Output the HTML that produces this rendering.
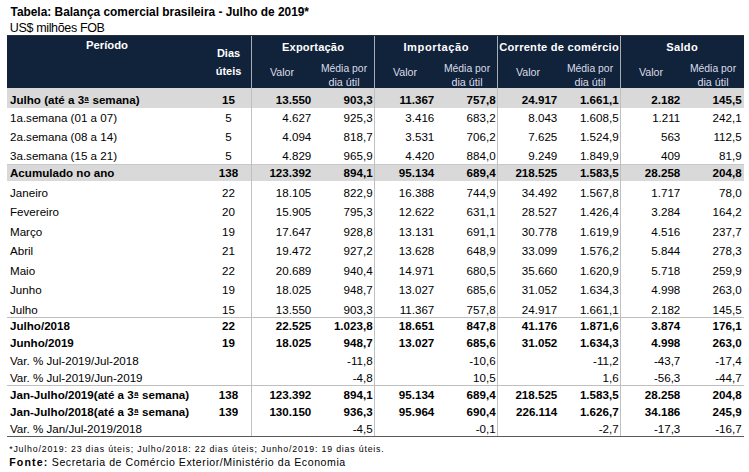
<!DOCTYPE html>
<html><head><meta charset="utf-8"><style>
html,body{margin:0;padding:0;}
body{width:749px;height:472px;position:relative;overflow:hidden;background:#fff;font-family:"Liberation Sans",sans-serif;}
.t{position:absolute;line-height:0;white-space:nowrap;}
.ord{position:relative;top:-3px;font-size:7.5px;text-decoration:underline;text-decoration-thickness:1px;text-underline-offset:1px;margin:0 0.6px 0 0.4px;}
</style></head><body>
<div style="position:absolute;left:7px;top:35px;width:737px;height:53px;background:#11223b;"></div><div style="position:absolute;left:7px;top:35px;width:737px;height:1px;background:#2b2f3a;"></div><div style="position:absolute;left:7px;top:88px;width:737px;height:20px;background:#d9d9d9;"></div><div style="position:absolute;left:7px;top:164px;width:737px;height:17px;background:#d9d9d9;"></div><div style="position:absolute;left:7px;top:164px;width:737px;height:1px;background:#c8c8c8;"></div><div style="position:absolute;left:7px;top:317px;width:737px;height:1px;background:#bfbfbf;"></div><div style="position:absolute;left:7px;top:385px;width:737px;height:1px;background:#bfbfbf;"></div><div style="position:absolute;left:7px;top:436px;width:737px;height:1px;background:#595959;"></div><div style="position:absolute;left:251px;top:36px;width:1px;height:52px;background:#a9acb2;"></div><div style="position:absolute;left:251px;top:88px;width:1px;height:348px;background:#c0c0c0;"></div><div style="position:absolute;left:374px;top:36px;width:1px;height:52px;background:#a9acb2;"></div><div style="position:absolute;left:374px;top:88px;width:1px;height:348px;background:#c0c0c0;"></div><div style="position:absolute;left:497px;top:36px;width:1px;height:52px;background:#a9acb2;"></div><div style="position:absolute;left:497px;top:88px;width:1px;height:348px;background:#c0c0c0;"></div><div style="position:absolute;left:620px;top:36px;width:1px;height:52px;background:#a9acb2;"></div><div style="position:absolute;left:620px;top:88px;width:1px;height:348px;background:#c0c0c0;"></div><div class="t" style="left:10.5px;top:11.58px;font-size:11.9px;font-weight:bold;color:#000;">Tabela: Balança comercial brasileira - Julho de 2019*</div>
<div class="t" style="left:9.8px;top:28.07px;font-size:12.5px;color:#000;letter-spacing:-0.35px;">US$ milhões FOB</div>
<div class="t" style="left:-43px;width:300px;text-align:center;top:45.38px;font-size:11.3px;font-weight:bold;color:#ffffff;">Período</div>
<div class="t" style="left:78.5px;width:300px;text-align:center;top:53.39px;font-size:11px;font-weight:bold;color:#ffffff;">Dias</div>
<div class="t" style="left:78.5px;width:300px;text-align:center;top:70.59px;font-size:11px;font-weight:bold;color:#ffffff;">úteis</div>
<div class="t" style="left:163.08499999999998px;width:300px;text-align:center;top:46.75px;font-size:11.1px;font-weight:bold;color:#ffffff;letter-spacing:0.17px;">Exportação</div>
<div class="t" style="left:132px;width:300px;text-align:center;top:71.79px;font-size:10.7px;color:#d9dde6;">Valor</div>
<div class="t" style="left:194px;width:300px;text-align:center;top:69.00px;font-size:10.4px;color:#d9dde6;">Média por</div>
<div class="t" style="left:194px;width:300px;text-align:center;top:82.36px;font-size:10.8px;color:#d9dde6;">dia útil</div>
<div class="t" style="left:286.3px;width:300px;text-align:center;top:46.75px;font-size:11.1px;font-weight:bold;color:#ffffff;letter-spacing:0.6px;">Importação</div>
<div class="t" style="left:255px;width:300px;text-align:center;top:71.79px;font-size:10.7px;color:#d9dde6;">Valor</div>
<div class="t" style="left:317px;width:300px;text-align:center;top:69.00px;font-size:10.4px;color:#d9dde6;">Média por</div>
<div class="t" style="left:317px;width:300px;text-align:center;top:82.36px;font-size:10.8px;color:#d9dde6;">dia útil</div>
<div class="t" style="left:409.125px;width:300px;text-align:center;top:46.75px;font-size:11.1px;font-weight:bold;color:#ffffff;letter-spacing:0.25px;">Corrente de comércio</div>
<div class="t" style="left:378px;width:300px;text-align:center;top:71.79px;font-size:10.7px;color:#d9dde6;">Valor</div>
<div class="t" style="left:440px;width:300px;text-align:center;top:69.00px;font-size:10.4px;color:#d9dde6;">Média por</div>
<div class="t" style="left:440px;width:300px;text-align:center;top:82.36px;font-size:10.8px;color:#d9dde6;">dia útil</div>
<div class="t" style="left:532.15px;width:300px;text-align:center;top:46.75px;font-size:11.1px;font-weight:bold;color:#ffffff;letter-spacing:0.3px;">Saldo</div>
<div class="t" style="left:501px;width:300px;text-align:center;top:71.79px;font-size:10.7px;color:#d9dde6;">Valor</div>
<div class="t" style="left:563px;width:300px;text-align:center;top:69.00px;font-size:10.4px;color:#d9dde6;">Média por</div>
<div class="t" style="left:563px;width:300px;text-align:center;top:82.36px;font-size:10.8px;color:#d9dde6;">dia útil</div>
<div class="t" style="left:10px;top:99.98px;font-size:11.6px;font-weight:bold;color:#000;">Julho (até a 3<span class="ord">a</span> semana)</div>
<div class="t" style="left:78.5px;width:300px;text-align:center;top:99.98px;font-size:11.6px;font-weight:bold;color:#000;">15</div>
<div class="t" style="right:437.7px;top:99.98px;font-size:11.6px;font-weight:bold;color:#000;">13.550</div>
<div class="t" style="right:376.4px;top:99.98px;font-size:11.6px;font-weight:bold;color:#000;">903,3</div>
<div class="t" style="right:314.7px;top:99.98px;font-size:11.6px;font-weight:bold;color:#000;">11.367</div>
<div class="t" style="right:253.39999999999998px;top:99.98px;font-size:11.6px;font-weight:bold;color:#000;">757,8</div>
<div class="t" style="right:191.70000000000005px;top:99.98px;font-size:11.6px;font-weight:bold;color:#000;">24.917</div>
<div class="t" style="right:130.39999999999998px;top:99.98px;font-size:11.6px;font-weight:bold;color:#000;">1.661,1</div>
<div class="t" style="right:68.70000000000005px;top:99.98px;font-size:11.6px;font-weight:bold;color:#000;">2.182</div>
<div class="t" style="right:7.399999999999977px;top:99.98px;font-size:11.6px;font-weight:bold;color:#000;">145,5</div>
<div class="t" style="left:10px;top:117.98px;font-size:11.6px;color:#000;">1a.semana (01 a 07)</div>
<div class="t" style="left:78.5px;width:300px;text-align:center;top:117.98px;font-size:11.6px;color:#000;">5</div>
<div class="t" style="right:437.7px;top:117.98px;font-size:11.6px;color:#000;">4.627</div>
<div class="t" style="right:376.4px;top:117.98px;font-size:11.6px;color:#000;">925,3</div>
<div class="t" style="right:314.7px;top:117.98px;font-size:11.6px;color:#000;">3.416</div>
<div class="t" style="right:253.39999999999998px;top:117.98px;font-size:11.6px;color:#000;">683,2</div>
<div class="t" style="right:191.70000000000005px;top:117.98px;font-size:11.6px;color:#000;">8.043</div>
<div class="t" style="right:130.39999999999998px;top:117.98px;font-size:11.6px;color:#000;">1.608,5</div>
<div class="t" style="right:68.70000000000005px;top:117.98px;font-size:11.6px;color:#000;">1.211</div>
<div class="t" style="right:7.399999999999977px;top:117.98px;font-size:11.6px;color:#000;">242,1</div>
<div class="t" style="left:10px;top:136.98px;font-size:11.6px;color:#000;">2a.semana (08 a 14)</div>
<div class="t" style="left:78.5px;width:300px;text-align:center;top:136.98px;font-size:11.6px;color:#000;">5</div>
<div class="t" style="right:437.7px;top:136.98px;font-size:11.6px;color:#000;">4.094</div>
<div class="t" style="right:376.4px;top:136.98px;font-size:11.6px;color:#000;">818,7</div>
<div class="t" style="right:314.7px;top:136.98px;font-size:11.6px;color:#000;">3.531</div>
<div class="t" style="right:253.39999999999998px;top:136.98px;font-size:11.6px;color:#000;">706,2</div>
<div class="t" style="right:191.70000000000005px;top:136.98px;font-size:11.6px;color:#000;">7.625</div>
<div class="t" style="right:130.39999999999998px;top:136.98px;font-size:11.6px;color:#000;">1.524,9</div>
<div class="t" style="right:68.70000000000005px;top:136.98px;font-size:11.6px;color:#000;">563</div>
<div class="t" style="right:7.399999999999977px;top:136.98px;font-size:11.6px;color:#000;">112,5</div>
<div class="t" style="left:10px;top:156.28px;font-size:11.6px;color:#000;">3a.semana (15 a 21)</div>
<div class="t" style="left:78.5px;width:300px;text-align:center;top:156.28px;font-size:11.6px;color:#000;">5</div>
<div class="t" style="right:437.7px;top:156.28px;font-size:11.6px;color:#000;">4.829</div>
<div class="t" style="right:376.4px;top:156.28px;font-size:11.6px;color:#000;">965,9</div>
<div class="t" style="right:314.7px;top:156.28px;font-size:11.6px;color:#000;">4.420</div>
<div class="t" style="right:253.39999999999998px;top:156.28px;font-size:11.6px;color:#000;">884,0</div>
<div class="t" style="right:191.70000000000005px;top:156.28px;font-size:11.6px;color:#000;">9.249</div>
<div class="t" style="right:130.39999999999998px;top:156.28px;font-size:11.6px;color:#000;">1.849,9</div>
<div class="t" style="right:68.70000000000005px;top:156.28px;font-size:11.6px;color:#000;">409</div>
<div class="t" style="right:7.399999999999977px;top:156.28px;font-size:11.6px;color:#000;">81,9</div>
<div class="t" style="left:10px;top:173.28px;font-size:11.6px;font-weight:bold;color:#000;">Acumulado no ano</div>
<div class="t" style="left:78.5px;width:300px;text-align:center;top:173.28px;font-size:11.6px;font-weight:bold;color:#000;">138</div>
<div class="t" style="right:437.7px;top:173.28px;font-size:11.6px;font-weight:bold;color:#000;">123.392</div>
<div class="t" style="right:376.4px;top:173.28px;font-size:11.6px;font-weight:bold;color:#000;">894,1</div>
<div class="t" style="right:314.7px;top:173.28px;font-size:11.6px;font-weight:bold;color:#000;">95.134</div>
<div class="t" style="right:253.39999999999998px;top:173.28px;font-size:11.6px;font-weight:bold;color:#000;">689,4</div>
<div class="t" style="right:191.70000000000005px;top:173.28px;font-size:11.6px;font-weight:bold;color:#000;">218.525</div>
<div class="t" style="right:130.39999999999998px;top:173.28px;font-size:11.6px;font-weight:bold;color:#000;">1.583,5</div>
<div class="t" style="right:68.70000000000005px;top:173.28px;font-size:11.6px;font-weight:bold;color:#000;">28.258</div>
<div class="t" style="right:7.399999999999977px;top:173.28px;font-size:11.6px;font-weight:bold;color:#000;">204,8</div>
<div class="t" style="left:10px;top:192.78px;font-size:11.6px;color:#000;">Janeiro</div>
<div class="t" style="left:78.5px;width:300px;text-align:center;top:192.78px;font-size:11.6px;color:#000;">22</div>
<div class="t" style="right:437.7px;top:192.78px;font-size:11.6px;color:#000;">18.105</div>
<div class="t" style="right:376.4px;top:192.78px;font-size:11.6px;color:#000;">822,9</div>
<div class="t" style="right:314.7px;top:192.78px;font-size:11.6px;color:#000;">16.388</div>
<div class="t" style="right:253.39999999999998px;top:192.78px;font-size:11.6px;color:#000;">744,9</div>
<div class="t" style="right:191.70000000000005px;top:192.78px;font-size:11.6px;color:#000;">34.492</div>
<div class="t" style="right:130.39999999999998px;top:192.78px;font-size:11.6px;color:#000;">1.567,8</div>
<div class="t" style="right:68.70000000000005px;top:192.78px;font-size:11.6px;color:#000;">1.717</div>
<div class="t" style="right:7.399999999999977px;top:192.78px;font-size:11.6px;color:#000;">78,0</div>
<div class="t" style="left:10px;top:212.18px;font-size:11.6px;color:#000;">Fevereiro</div>
<div class="t" style="left:78.5px;width:300px;text-align:center;top:212.18px;font-size:11.6px;color:#000;">20</div>
<div class="t" style="right:437.7px;top:212.18px;font-size:11.6px;color:#000;">15.905</div>
<div class="t" style="right:376.4px;top:212.18px;font-size:11.6px;color:#000;">795,3</div>
<div class="t" style="right:314.7px;top:212.18px;font-size:11.6px;color:#000;">12.622</div>
<div class="t" style="right:253.39999999999998px;top:212.18px;font-size:11.6px;color:#000;">631,1</div>
<div class="t" style="right:191.70000000000005px;top:212.18px;font-size:11.6px;color:#000;">28.527</div>
<div class="t" style="right:130.39999999999998px;top:212.18px;font-size:11.6px;color:#000;">1.426,4</div>
<div class="t" style="right:68.70000000000005px;top:212.18px;font-size:11.6px;color:#000;">3.284</div>
<div class="t" style="right:7.399999999999977px;top:212.18px;font-size:11.6px;color:#000;">164,2</div>
<div class="t" style="left:10px;top:231.78px;font-size:11.6px;color:#000;">Março</div>
<div class="t" style="left:78.5px;width:300px;text-align:center;top:231.78px;font-size:11.6px;color:#000;">19</div>
<div class="t" style="right:437.7px;top:231.78px;font-size:11.6px;color:#000;">17.647</div>
<div class="t" style="right:376.4px;top:231.78px;font-size:11.6px;color:#000;">928,8</div>
<div class="t" style="right:314.7px;top:231.78px;font-size:11.6px;color:#000;">13.131</div>
<div class="t" style="right:253.39999999999998px;top:231.78px;font-size:11.6px;color:#000;">691,1</div>
<div class="t" style="right:191.70000000000005px;top:231.78px;font-size:11.6px;color:#000;">30.778</div>
<div class="t" style="right:130.39999999999998px;top:231.78px;font-size:11.6px;color:#000;">1.619,9</div>
<div class="t" style="right:68.70000000000005px;top:231.78px;font-size:11.6px;color:#000;">4.516</div>
<div class="t" style="right:7.399999999999977px;top:231.78px;font-size:11.6px;color:#000;">237,7</div>
<div class="t" style="left:10px;top:251.08px;font-size:11.6px;color:#000;">Abril</div>
<div class="t" style="left:78.5px;width:300px;text-align:center;top:251.08px;font-size:11.6px;color:#000;">21</div>
<div class="t" style="right:437.7px;top:251.08px;font-size:11.6px;color:#000;">19.472</div>
<div class="t" style="right:376.4px;top:251.08px;font-size:11.6px;color:#000;">927,2</div>
<div class="t" style="right:314.7px;top:251.08px;font-size:11.6px;color:#000;">13.628</div>
<div class="t" style="right:253.39999999999998px;top:251.08px;font-size:11.6px;color:#000;">648,9</div>
<div class="t" style="right:191.70000000000005px;top:251.08px;font-size:11.6px;color:#000;">33.099</div>
<div class="t" style="right:130.39999999999998px;top:251.08px;font-size:11.6px;color:#000;">1.576,2</div>
<div class="t" style="right:68.70000000000005px;top:251.08px;font-size:11.6px;color:#000;">5.844</div>
<div class="t" style="right:7.399999999999977px;top:251.08px;font-size:11.6px;color:#000;">278,3</div>
<div class="t" style="left:10px;top:270.78px;font-size:11.6px;color:#000;">Maio</div>
<div class="t" style="left:78.5px;width:300px;text-align:center;top:270.78px;font-size:11.6px;color:#000;">22</div>
<div class="t" style="right:437.7px;top:270.78px;font-size:11.6px;color:#000;">20.689</div>
<div class="t" style="right:376.4px;top:270.78px;font-size:11.6px;color:#000;">940,4</div>
<div class="t" style="right:314.7px;top:270.78px;font-size:11.6px;color:#000;">14.971</div>
<div class="t" style="right:253.39999999999998px;top:270.78px;font-size:11.6px;color:#000;">680,5</div>
<div class="t" style="right:191.70000000000005px;top:270.78px;font-size:11.6px;color:#000;">35.660</div>
<div class="t" style="right:130.39999999999998px;top:270.78px;font-size:11.6px;color:#000;">1.620,9</div>
<div class="t" style="right:68.70000000000005px;top:270.78px;font-size:11.6px;color:#000;">5.718</div>
<div class="t" style="right:7.399999999999977px;top:270.78px;font-size:11.6px;color:#000;">259,9</div>
<div class="t" style="left:10px;top:290.18px;font-size:11.6px;color:#000;">Junho</div>
<div class="t" style="left:78.5px;width:300px;text-align:center;top:290.18px;font-size:11.6px;color:#000;">19</div>
<div class="t" style="right:437.7px;top:290.18px;font-size:11.6px;color:#000;">18.025</div>
<div class="t" style="right:376.4px;top:290.18px;font-size:11.6px;color:#000;">948,7</div>
<div class="t" style="right:314.7px;top:290.18px;font-size:11.6px;color:#000;">13.027</div>
<div class="t" style="right:253.39999999999998px;top:290.18px;font-size:11.6px;color:#000;">685,6</div>
<div class="t" style="right:191.70000000000005px;top:290.18px;font-size:11.6px;color:#000;">31.052</div>
<div class="t" style="right:130.39999999999998px;top:290.18px;font-size:11.6px;color:#000;">1.634,3</div>
<div class="t" style="right:68.70000000000005px;top:290.18px;font-size:11.6px;color:#000;">4.998</div>
<div class="t" style="right:7.399999999999977px;top:290.18px;font-size:11.6px;color:#000;">263,0</div>
<div class="t" style="left:10px;top:309.78px;font-size:11.6px;color:#000;">Julho</div>
<div class="t" style="left:78.5px;width:300px;text-align:center;top:309.78px;font-size:11.6px;color:#000;">15</div>
<div class="t" style="right:437.7px;top:309.78px;font-size:11.6px;color:#000;">13.550</div>
<div class="t" style="right:376.4px;top:309.78px;font-size:11.6px;color:#000;">903,3</div>
<div class="t" style="right:314.7px;top:309.78px;font-size:11.6px;color:#000;">11.367</div>
<div class="t" style="right:253.39999999999998px;top:309.78px;font-size:11.6px;color:#000;">757,8</div>
<div class="t" style="right:191.70000000000005px;top:309.78px;font-size:11.6px;color:#000;">24.917</div>
<div class="t" style="right:130.39999999999998px;top:309.78px;font-size:11.6px;color:#000;">1.661,1</div>
<div class="t" style="right:68.70000000000005px;top:309.78px;font-size:11.6px;color:#000;">2.182</div>
<div class="t" style="right:7.399999999999977px;top:309.78px;font-size:11.6px;color:#000;">145,5</div>
<div class="t" style="left:10px;top:326.18px;font-size:11.6px;font-weight:bold;color:#000;">Julho/2018</div>
<div class="t" style="left:78.5px;width:300px;text-align:center;top:326.18px;font-size:11.6px;font-weight:bold;color:#000;">22</div>
<div class="t" style="right:437.7px;top:326.18px;font-size:11.6px;font-weight:bold;color:#000;">22.525</div>
<div class="t" style="right:376.4px;top:326.18px;font-size:11.6px;font-weight:bold;color:#000;">1.023,8</div>
<div class="t" style="right:314.7px;top:326.18px;font-size:11.6px;font-weight:bold;color:#000;">18.651</div>
<div class="t" style="right:253.39999999999998px;top:326.18px;font-size:11.6px;font-weight:bold;color:#000;">847,8</div>
<div class="t" style="right:191.70000000000005px;top:326.18px;font-size:11.6px;font-weight:bold;color:#000;">41.176</div>
<div class="t" style="right:130.39999999999998px;top:326.18px;font-size:11.6px;font-weight:bold;color:#000;">1.871,6</div>
<div class="t" style="right:68.70000000000005px;top:326.18px;font-size:11.6px;font-weight:bold;color:#000;">3.874</div>
<div class="t" style="right:7.399999999999977px;top:326.18px;font-size:11.6px;font-weight:bold;color:#000;">176,1</div>
<div class="t" style="left:10px;top:343.38px;font-size:11.6px;font-weight:bold;color:#000;">Junho/2019</div>
<div class="t" style="left:78.5px;width:300px;text-align:center;top:343.38px;font-size:11.6px;font-weight:bold;color:#000;">19</div>
<div class="t" style="right:437.7px;top:343.38px;font-size:11.6px;font-weight:bold;color:#000;">18.025</div>
<div class="t" style="right:376.4px;top:343.38px;font-size:11.6px;font-weight:bold;color:#000;">948,7</div>
<div class="t" style="right:314.7px;top:343.38px;font-size:11.6px;font-weight:bold;color:#000;">13.027</div>
<div class="t" style="right:253.39999999999998px;top:343.38px;font-size:11.6px;font-weight:bold;color:#000;">685,6</div>
<div class="t" style="right:191.70000000000005px;top:343.38px;font-size:11.6px;font-weight:bold;color:#000;">31.052</div>
<div class="t" style="right:130.39999999999998px;top:343.38px;font-size:11.6px;font-weight:bold;color:#000;">1.634,3</div>
<div class="t" style="right:68.70000000000005px;top:343.38px;font-size:11.6px;font-weight:bold;color:#000;">4.998</div>
<div class="t" style="right:7.399999999999977px;top:343.38px;font-size:11.6px;font-weight:bold;color:#000;">263,0</div>
<div class="t" style="left:10px;top:360.98px;font-size:11.6px;color:#000;">Var. % Jul-2019/Jul-2018</div>
<div class="t" style="left:78.5px;width:300px;text-align:center;top:360.98px;font-size:11.6px;color:#000;"></div>
<div class="t" style="right:376.4px;top:360.98px;font-size:11.6px;color:#000;">-11,8</div>
<div class="t" style="right:253.39999999999998px;top:360.98px;font-size:11.6px;color:#000;">-10,6</div>
<div class="t" style="right:130.39999999999998px;top:360.98px;font-size:11.6px;color:#000;">-11,2</div>
<div class="t" style="right:68.70000000000005px;top:360.98px;font-size:11.6px;color:#000;">-43,7</div>
<div class="t" style="right:7.399999999999977px;top:360.98px;font-size:11.6px;color:#000;">-17,4</div>
<div class="t" style="left:10px;top:377.68px;font-size:11.6px;color:#000;">Var. % Jul-2019/Jun-2019</div>
<div class="t" style="left:78.5px;width:300px;text-align:center;top:377.68px;font-size:11.6px;color:#000;"></div>
<div class="t" style="right:376.4px;top:377.68px;font-size:11.6px;color:#000;">-4,8</div>
<div class="t" style="right:253.39999999999998px;top:377.68px;font-size:11.6px;color:#000;">10,5</div>
<div class="t" style="right:130.39999999999998px;top:377.68px;font-size:11.6px;color:#000;">1,6</div>
<div class="t" style="right:68.70000000000005px;top:377.68px;font-size:11.6px;color:#000;">-56,3</div>
<div class="t" style="right:7.399999999999977px;top:377.68px;font-size:11.6px;color:#000;">-44,7</div>
<div class="t" style="left:10px;top:394.88px;font-size:11.6px;font-weight:bold;color:#000;">Jan-Julho/2019(até a 3<span class="ord">a</span> semana)</div>
<div class="t" style="left:78.5px;width:300px;text-align:center;top:394.88px;font-size:11.6px;font-weight:bold;color:#000;">138</div>
<div class="t" style="right:437.7px;top:394.88px;font-size:11.6px;font-weight:bold;color:#000;">123.392</div>
<div class="t" style="right:376.4px;top:394.88px;font-size:11.6px;font-weight:bold;color:#000;">894,1</div>
<div class="t" style="right:314.7px;top:394.88px;font-size:11.6px;font-weight:bold;color:#000;">95.134</div>
<div class="t" style="right:253.39999999999998px;top:394.88px;font-size:11.6px;font-weight:bold;color:#000;">689,4</div>
<div class="t" style="right:191.70000000000005px;top:394.88px;font-size:11.6px;font-weight:bold;color:#000;">218.525</div>
<div class="t" style="right:130.39999999999998px;top:394.88px;font-size:11.6px;font-weight:bold;color:#000;">1.583,5</div>
<div class="t" style="right:68.70000000000005px;top:394.88px;font-size:11.6px;font-weight:bold;color:#000;">28.258</div>
<div class="t" style="right:7.399999999999977px;top:394.88px;font-size:11.6px;font-weight:bold;color:#000;">204,8</div>
<div class="t" style="left:10px;top:411.98px;font-size:11.6px;font-weight:bold;color:#000;">Jan-Julho/2018(até a 3<span class="ord">a</span> semana)</div>
<div class="t" style="left:78.5px;width:300px;text-align:center;top:411.98px;font-size:11.6px;font-weight:bold;color:#000;">139</div>
<div class="t" style="right:437.7px;top:411.98px;font-size:11.6px;font-weight:bold;color:#000;">130.150</div>
<div class="t" style="right:376.4px;top:411.98px;font-size:11.6px;font-weight:bold;color:#000;">936,3</div>
<div class="t" style="right:314.7px;top:411.98px;font-size:11.6px;font-weight:bold;color:#000;">95.964</div>
<div class="t" style="right:253.39999999999998px;top:411.98px;font-size:11.6px;font-weight:bold;color:#000;">690,4</div>
<div class="t" style="right:191.70000000000005px;top:411.98px;font-size:11.6px;font-weight:bold;color:#000;">226.114</div>
<div class="t" style="right:130.39999999999998px;top:411.98px;font-size:11.6px;font-weight:bold;color:#000;">1.626,7</div>
<div class="t" style="right:68.70000000000005px;top:411.98px;font-size:11.6px;font-weight:bold;color:#000;">34.186</div>
<div class="t" style="right:7.399999999999977px;top:411.98px;font-size:11.6px;font-weight:bold;color:#000;">245,9</div>
<div class="t" style="left:10px;top:428.78px;font-size:11.6px;color:#000;">Var. % Jan/Jul-2019/2018</div>
<div class="t" style="left:78.5px;width:300px;text-align:center;top:428.78px;font-size:11.6px;color:#000;"></div>
<div class="t" style="right:376.4px;top:428.78px;font-size:11.6px;color:#000;">-4,5</div>
<div class="t" style="right:253.39999999999998px;top:428.78px;font-size:11.6px;color:#000;">-0,1</div>
<div class="t" style="right:130.39999999999998px;top:428.78px;font-size:11.6px;color:#000;">-2,7</div>
<div class="t" style="right:68.70000000000005px;top:428.78px;font-size:11.6px;color:#000;">-17,3</div>
<div class="t" style="right:7.399999999999977px;top:428.78px;font-size:11.6px;color:#000;">-16,7</div>
<div class="t" style="left:9.2px;top:448.95px;font-size:8.8px;color:#000;letter-spacing:0.8px;">*Julho/2019: 23 dias úteis; Julho/2018: 22 dias úteis; Junho/2019: 19 dias úteis.</div>
<div class="t" style="left:9.3px;top:461.53px;font-size:10.6px;color:#000;letter-spacing:0.56px;"><b style="letter-spacing:1.1px">Fonte:</b> Secretaria de Comércio Exterior/Ministério da Economia</div>
</body></html>
